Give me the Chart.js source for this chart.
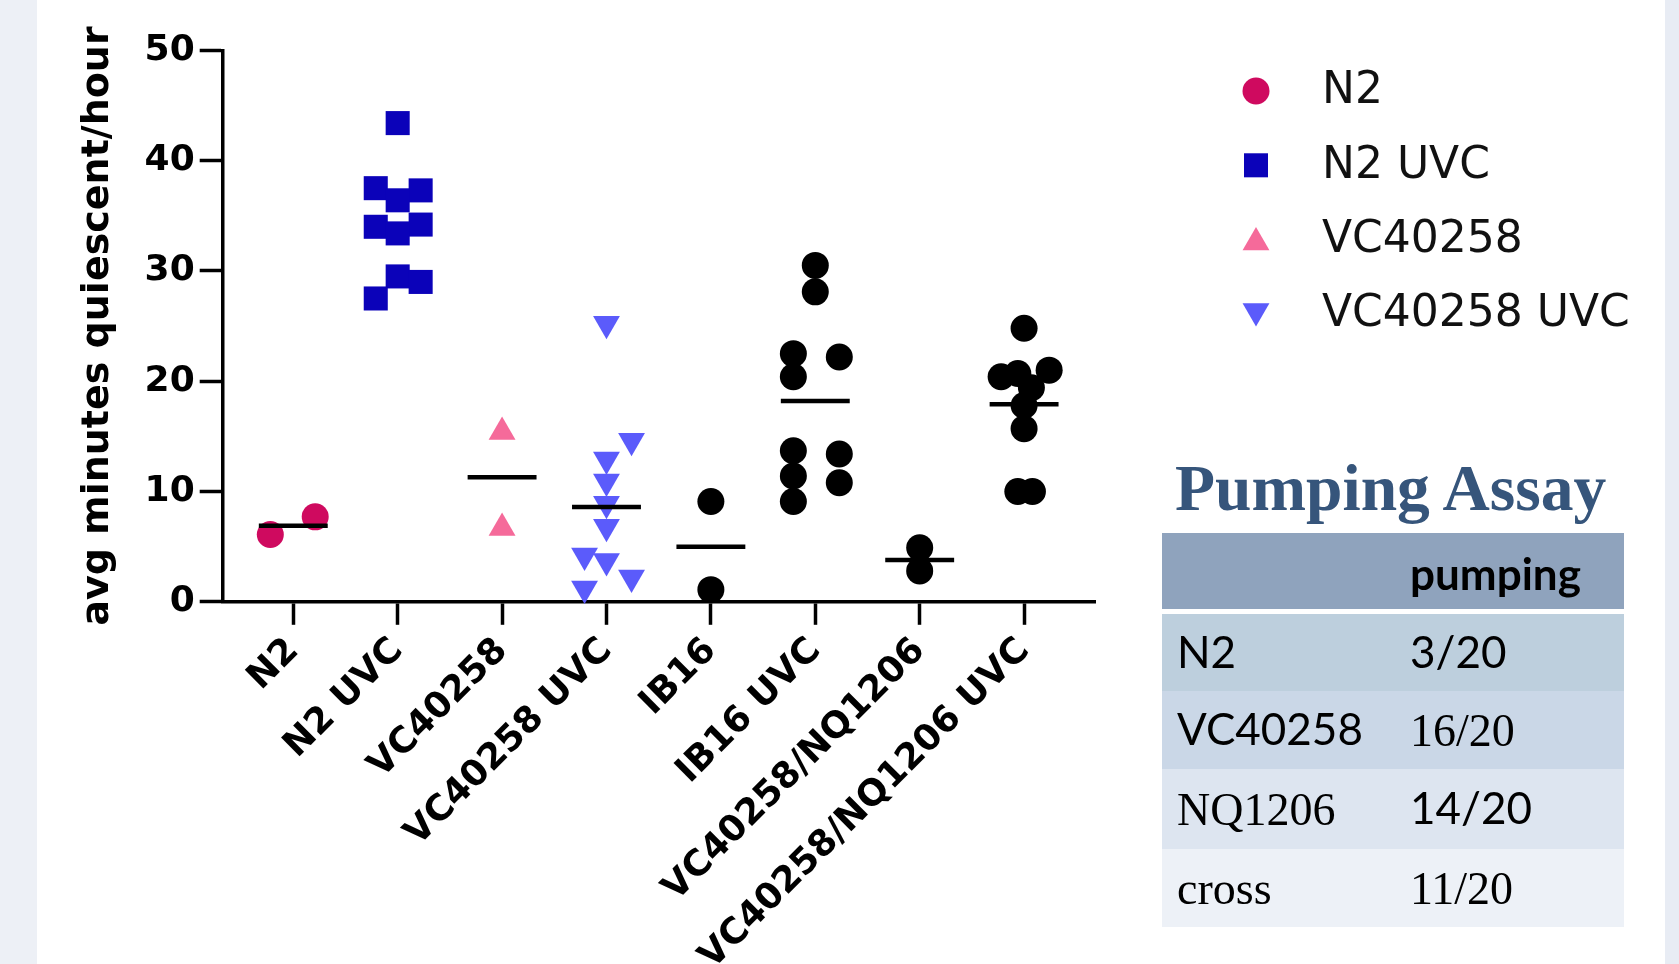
<!DOCTYPE html>
<html>
<head>
<meta charset="utf-8">
<script src="https://cdn.jsdelivr.net/npm/chart.js@4"></script>
<style>
  html, body { margin: 0; padding: 0; }
  body { width: 1679px; height: 964px; position: relative; overflow: hidden; background: #ffffff; }
  .strip { position: absolute; top: 0; height: 964px; }
  #stripL { left: 0; width: 37px; background: #edf0f6; }
  #stripR { left: 1665px; width: 14px; background: #e8ecf4; }
  #chartWrap { position: absolute; left: 0; top: 0; width: 1679px; height: 964px; }
  #tblTitle { position: absolute; left: 1175px; top: 456px; font: bold 65.5px "Liberation Serif", serif; line-height: 65px; color: #36557b; white-space: nowrap; }
  .row { position: absolute; left: 1162px; width: 462px; }
  .cell { position: absolute; top: 0; height: 100%; display: flex; align-items: center; white-space: nowrap; color: #000; }
  .c0 { left: 15px; }
  .c1 { left: 248px; }
  .sans { font-family: "Lato", sans-serif; font-size: 44px; transform: translateY(-2px); }
  .serif { font-family: "Liberation Serif", serif; font-size: 46px; }
  .hdr { font-family: "Lato", sans-serif; font-weight: bold; font-size: 44px; transform: translateY(2px); }
</style>
</head>
<body>
<div class="strip" id="stripL"></div>
<div class="strip" id="stripR"></div>
<div id="chartWrap"><canvas id="c" width="1679" height="964" style="width:1679px;height:964px"></canvas></div>
<div id="tblTitle">Pumping Assay</div>
<div id="tbl"></div>
<script>
// ---------- data ----------
const categories = ['N2', 'N2 UVC', 'VC40258', 'VC40258 UVC', 'IB16', 'IB16 UVC', 'VC40258/NQ1206', 'VC40258/NQ1206 UVC'];
const yTicks = [0, 10, 20, 30, 40, 50];

const n2Values = [6.1, 7.7];
const n2Jitter = [-0.22, 0.21];

const n2UvcValues = [43.4, 37.5, 37.3, 36.4, 34.0, 34.2, 33.4, 29.5, 29.0, 27.5];
const n2UvcJitter = [0, -0.21, 0.22, 0, -0.21, 0.22, 0, 0, 0.22, -0.21];

const vcValues = [15.4, 6.7];
const vcJitter = [0, 0];

const vcUvcValues = [25.2, 14.6, 12.9, 10.9, 8.9, 6.8, 4.2, 3.7, 2.2, 1.2];
const vcUvcJitter = [0, 0.24, 0, 0, 0, 0, -0.21, 0, 0.24, -0.21];

const ib16Values = [9.1, 1.1];
const ib16Jitter = [0, 0];

const ib16UvcValues = [30.5, 28.1, 22.5, 22.2, 20.4, 13.7, 13.4, 11.4, 10.8, 9.1];
const ib16UvcJitter = [0, 0, -0.21, 0.23, -0.21, -0.21, 0.23, -0.21, 0.23, -0.21];

const crossValues = [4.9, 2.8];
const crossJitter = [0, 0];

const crossUvcValues = [24.8, 20.4, 20.7, 21.0, 19.4, 17.8, 15.7, 10.0, 10.0];
const crossUvcJitter = [0, -0.22, -0.06, 0.24, 0.07, 0, 0, -0.06, 0.08];

const meanValues = [6.9, null, 11.3, 8.6, 5.0, 18.2, 3.8, 17.9];

const tableHeader = ['', 'pumping'];
const tableStrains = ['N2', 'VC40258', 'NQ1206', 'cross'];
const tablePumping = ['3/20', '16/20', '14/20', '11/20'];

// ---------- styles ----------
const groupStyles = [
  { color: '#cf0a5f', pointStyle: 'circle', radius: 13.5, rotation: 0, legend: true },
  { color: '#0b02b9', pointStyle: 'rect', radius: 17, rotation: 0, legend: true },
  { color: '#f56a9a', pointStyle: 'triangle', radius: 15.5, rotation: 0, legend: true },
  { color: '#5b5bfb', pointStyle: 'triangle', radius: 15.5, rotation: 180, legend: true },
  { color: '#000000', pointStyle: 'circle', radius: 13.5, rotation: 0, legend: false },
  { color: '#000000', pointStyle: 'circle', radius: 13.5, rotation: 0, legend: false },
  { color: '#000000', pointStyle: 'circle', radius: 13.5, rotation: 0, legend: false },
  { color: '#000000', pointStyle: 'circle', radius: 13.5, rotation: 0, legend: false }
];
const groupValues = [n2Values, n2UvcValues, vcValues, vcUvcValues, ib16Values, ib16UvcValues, crossValues, crossUvcValues];
const groupJitter = [n2Jitter, n2UvcJitter, vcJitter, vcUvcJitter, ib16Jitter, ib16UvcJitter, crossJitter, crossUvcJitter];
const meanHalfWidth = 0.33;

const datasets = [];
const meanData = [];
meanValues.forEach((m, i) => {
  if (m === null) return;
  meanData.push({ x: i - meanHalfWidth, y: m }, { x: i + meanHalfWidth, y: m }, { x: i, y: null });
});
datasets.push({
  label: 'mean', data: meanData, showLine: true, spanGaps: false,
  borderColor: '#000', borderWidth: 4.5, pointRadius: 0, order: 0, clip: false, inLegend: false
});
groupValues.forEach((vals, gi) => {
  const st = groupStyles[gi];
  datasets.push({
    label: categories[gi],
    data: vals.map((v, k) => ({ x: gi + groupJitter[gi][k], y: v })),
    pointStyle: st.pointStyle, pointRadius: st.radius, pointRotation: st.rotation,
    backgroundColor: st.color, borderColor: st.color, borderWidth: 0,
    showLine: false, order: 1, clip: false, inLegend: st.legend
  });
});

// side legend drawn from the datasets
const sideLegend = {
  id: 'sideLegend',
  afterDraw(chart) {
    const ctx = chart.ctx;
    const markX = 1256, textX = 1322, top = 91, pitch = 74.3;
    let row = 0;
    ctx.save();
    chart.data.datasets.forEach(ds => {
      if (!ds.inLegend) return;
      const y = top + row * pitch;
      ctx.fillStyle = ds.backgroundColor;
      ctx.strokeStyle = ds.borderColor;
      const cy = (ds.pointStyle === 'triangle') ? y + (ds.pointRotation === 180 ? -3 : 3) : y;
      Chart.helpers.drawPoint(ctx, { pointStyle: ds.pointStyle, radius: ds.pointRadius, rotation: ds.pointRotation, borderWidth: 0 }, markX, cy);
      ctx.fillStyle = '#111';
      ctx.font = '44px "DejaVu Sans"';
      ctx.textBaseline = 'middle';
      ctx.textAlign = 'left';
      ctx.fillText(ds.label, textX, y + 1);
      row++;
    });
    ctx.restore();
  }
};

Chart.defaults.font.family = '"DejaVu Sans", sans-serif';
Chart.defaults.color = '#000';

new Chart(document.getElementById('c'), {
  type: 'scatter',
  data: { datasets },
  plugins: [sideLegend],
  options: {
    responsive: false,
    animation: false,
    events: [],
    layout: { padding: { left: 0, top: 50.3, right: 583.5, bottom: 0 } },
    plugins: { legend: { display: false }, tooltip: { enabled: false } },
    scales: {
      x: {
        type: 'linear', min: -0.676, max: 7.684,
        afterBuildTicks: (scale) => { scale.ticks = categories.map((c, i) => ({ value: i })); },
        afterFit: (scale) => { scale.height = 362.2; },
        ticks: {
          autoSkip: false, minRotation: 45, maxRotation: 45, padding: 5,
          font: { size: 36, weight: 'bold' }, color: '#000',
          callback: (v) => categories[v]
        },
        grid: { display: true, drawOnChartArea: false, drawTicks: true, tickLength: 23, tickWidth: 3.5, tickColor: '#000' },
        border: { display: true, color: '#000', width: 3.5 }
      },
      y: {
        type: 'linear', min: 0, max: 50,
        afterBuildTicks: (scale) => { scale.ticks = yTicks.map(v => ({ value: v })); },
        afterFit: (scale) => { scale.width = 222.7; },
        ticks: { padding: 5, font: { size: 36, weight: 'bold' }, color: '#000' },
        grid: { display: true, drawOnChartArea: false, drawTicks: true, tickLength: 23, tickWidth: 3.5, tickColor: '#000' },
        border: { display: true, color: '#000', width: 3.5 },
        title: {
          display: true, text: 'avg minutes quiescent/hour', color: '#000',
          font: { size: 38, weight: 'bold', lineHeight: 1.2 },
          padding: { top: 75, bottom: 0 }
        }
      }
    }
  }
});

// ---------- table ----------
const rowTops = [533, 614, 691, 769, 849];
const rowHeights = [75.5, 77, 78, 80, 78.3];
const rowColors = ['#8fa3bd', '#bdcfdd', '#cad7e7', '#dde5f0', '#edf1f7'];
const strainFont = ['sans', 'sans', 'serif', 'serif'];
const pumpFont = ['sans', 'serif', 'sans', 'serif'];
const tbl = document.getElementById('tbl');
function addRow(i, left, right, lf, rf) {
  const r = document.createElement('div');
  r.className = 'row';
  r.style.top = rowTops[i] + 'px';
  r.style.height = rowHeights[i] + 'px';
  r.style.background = rowColors[i];
  const a = document.createElement('div'); a.className = 'cell c0 ' + lf; a.textContent = left;
  const b = document.createElement('div'); b.className = 'cell c1 ' + rf; b.textContent = right;
  r.appendChild(a); r.appendChild(b);
  tbl.appendChild(r);
}
addRow(0, tableHeader[0], tableHeader[1], 'hdr', 'hdr');
tableStrains.forEach((s, k) => addRow(k + 1, s, tablePumping[k], strainFont[k], pumpFont[k]));
</script>
</body>
</html>
